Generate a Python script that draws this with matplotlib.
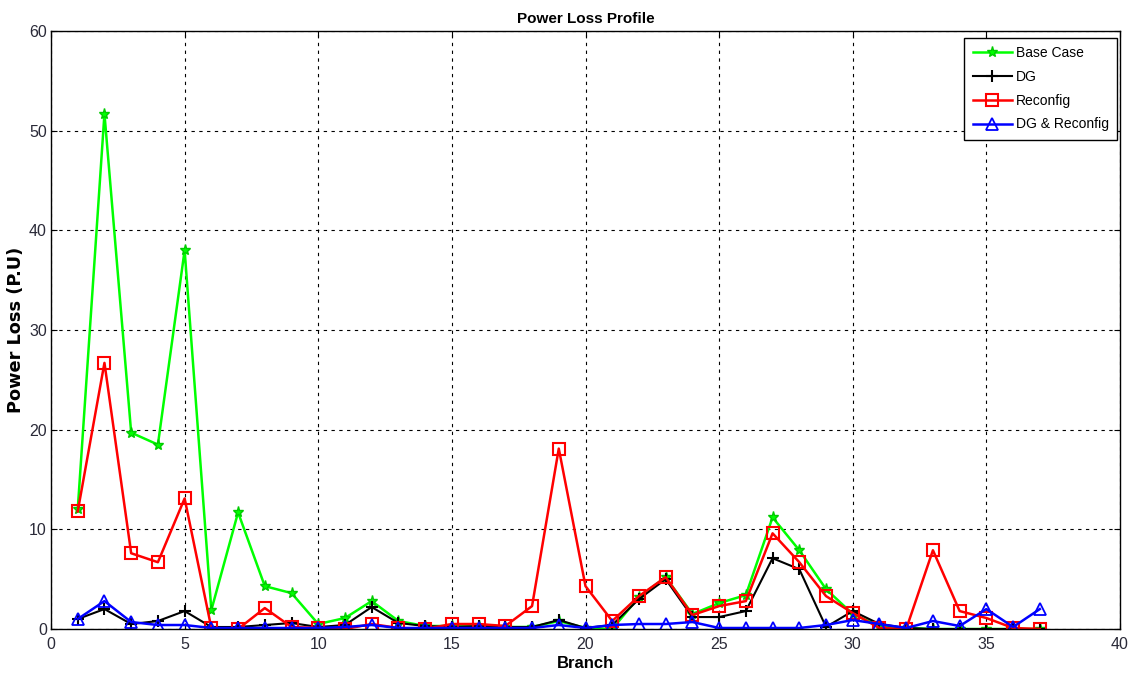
import matplotlib
matplotlib.use("Agg")
import matplotlib.pyplot as plt
import numpy as np

plt.rcParams['font.family'] = ['Liberation Sans', 'DejaVu Sans']

branch = list(range(1, 38))
base_case = [12.0, 51.7, 19.7, 18.5, 38.0, 1.9, 11.7, 4.3, 3.6, 0.5,
             1.1, 2.8, 0.8, 0.3, 0.3, 0.3, 0.2, 0.2, 0.8, 0.1,
             0.0, 3.2, 5.2, 1.5, 2.6, 3.4, 11.2, 7.9, 4.0, 1.5,
             0.3, 0.1, 0.0, 0.0, 0.0, 0.0, 0.0]
dg = [1.0, 2.0, 0.5, 0.8, 1.8, 0.2, 0.2, 0.4, 0.6, 0.2,
      0.4, 2.2, 0.6, 0.3, 0.2, 0.3, 0.2, 0.2, 0.9, 0.1,
      0.4, 3.0, 5.0, 1.2, 1.2, 1.8, 7.1, 6.0, 0.2, 1.8,
      0.5, 0.1, 0.0, 0.0, 0.0, 0.0, 0.0]
reconfig = [11.8, 26.7, 7.6, 6.7, 13.1, 0.1, 0.0, 2.1, 0.2, 0.1,
            0.0, 0.5, 0.1, 0.0, 0.5, 0.5, 0.3, 2.3, 18.1, 4.3,
            0.8, 3.3, 5.2, 1.4, 2.3, 2.8, 9.6, 6.7, 3.3, 1.6,
            0.1, 0.0, 7.9, 1.8, 1.1, 0.1, 0.0]
dg_reconfig = [1.0, 2.8, 0.7, 0.4, 0.4, 0.1, 0.1, 0.1, 0.1, 0.1,
               0.2, 0.4, 0.1, 0.1, 0.1, 0.1, 0.1, 0.1, 0.4, 0.1,
               0.4, 0.5, 0.5, 0.7, 0.1, 0.1, 0.1, 0.1, 0.4, 0.9,
               0.5, 0.1, 0.8, 0.3, 2.0, 0.2, 2.0]

W, H = 1128, 678
fig = plt.figure(figsize=(W / 100, H / 100), dpi=100)
ax = fig.add_axes([51 / W, 1 - 629 / H, (1120 - 51) / W, (629 - 31) / H])

ax.plot(branch, base_case, color='#00ff00', lw=1.8, marker='*', ms=8,
        mec='#00cc00', label='Base Case')
ax.plot(branch, dg, color='black', lw=1.5, marker='+', ms=8, mew=1.5,
        label='DG')
ax.plot(branch, reconfig, color='red', lw=1.8, marker='s', ms=8,
        mfc='none', mew=1.5, label='Reconfig')
ax.plot(branch, dg_reconfig, color='blue', lw=1.8, marker='^', ms=8,
        mfc='none', mew=1.3, label='DG & Reconfig')

ax.set_xlim(0, 40)
ax.set_ylim(0, 60)
ax.set_xticks(np.arange(0, 41, 5))
ax.set_yticks(np.arange(0, 61, 10))
ax.tick_params(direction='in', length=4, labelsize=11.5, colors='black',
               top=True, right=True)
ax.tick_params(axis='x', labelcolor='#2a2a38', pad=6)
ax.tick_params(axis='y', labelcolor='#2a2a38', pad=3)
ax.grid(True, color='black', linestyle=(0, (3, 4)), lw=0.8)
for s in ax.spines.values():
    s.set_linewidth(1.0)

ax.set_title('Power Loss Profile', fontsize=11, fontweight='bold', pad=6)
ax.set_xlabel('Branch', fontsize=12, fontweight='bold', labelpad=3)
ax.set_ylabel('Power Loss (P.U)', fontsize=12.8, fontweight='bold',
              family=['DejaVu Sans'])
ax.yaxis.set_label_coords((25 - 51) / (1120 - 51), 0.5)

leg = ax.legend(loc='upper right', bbox_to_anchor=(1117 / W, 1 - 38 / H),
                bbox_transform=fig.transFigure, fontsize=10, fancybox=False,
                edgecolor='black', framealpha=1, handlelength=2.8,
                handletextpad=0.3, borderaxespad=0, labelspacing=0.7,
                borderpad=0.6)
leg.get_frame().set_linewidth(1.0)

fig.savefig('out.png', dpi=100)
